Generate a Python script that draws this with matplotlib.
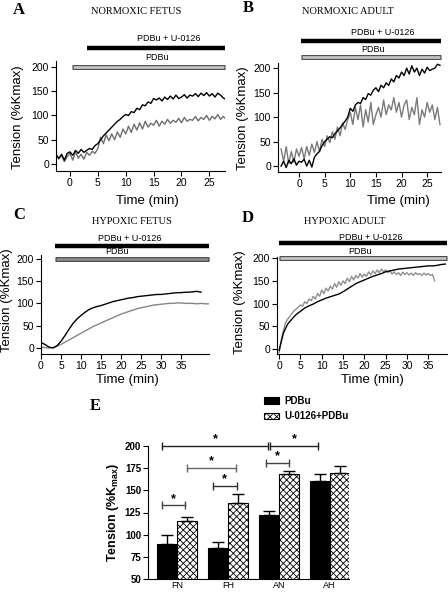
import numpy as np
import matplotlib
matplotlib.use("Agg")
import matplotlib.pyplot as plt

plt.rcParams["font.family"] = ["Liberation Sans", "DejaVu Sans"]
plt.rcParams["hatch.linewidth"] = 0.6
plt.rcParams["mathtext.fontset"] = "custom"
plt.rcParams["mathtext.rm"] = "Liberation Sans"
plt.rcParams["mathtext.bf"] = "Liberation Sans:bold"

W, H = 448, 593

# --- A: normoxic fetus, sampled every 0.5 min from -2.5 min
t_a = np.arange(-2.5, 28.01, 0.5)
a_u0126 = [18, 12, 20, 8, 22, 25, 18, 28, 22, 30,
           24, 28, 32, 30, 38, 42, 50, 58, 64, 70,
           76, 82, 88, 92, 98, 102, 100, 108, 106, 115,
           112, 122, 120, 128, 125, 135, 132, 136, 130, 138,
           133, 140, 134, 142, 135, 138, 143, 136, 142, 140,
           145, 139, 146, 141, 147, 140, 145, 138, 146, 142,
           136, 133]
a_pdbu = [22, 10, 18, 5, 15, 22, 8, 25, 12, 20,
          10, 24, 18, 26, 22, 32, 55, 42, 60, 48,
          62, 50, 66, 55, 72, 62, 78, 65, 82, 70,
          85, 72, 88, 76, 84, 80, 90, 78, 88, 82,
          92, 84, 90, 86, 94, 85, 96, 88, 92, 90,
          98, 89, 96, 92, 100, 90, 98, 93, 102, 92,
          98, 92]

# --- B: normoxic adult, every 0.5 min from -3.5 min
t_b = np.arange(-3.5, 27.51, 0.5)
b_u0126 = [0, 10, -3, 12, 5, 15, 2, 10, 8, 14,
           0, 12, -2, 18, 25, 30, 42, 50, 55, 60,
           58, 66, 72, 78, 85, 92, 100, 118, 112, 125,
           130, 128, 140, 136, 148, 145, 155, 160, 152, 165,
           160, 170, 165, 178, 172, 185, 180, 192, 185, 200,
           188, 205, 192, 200, 185, 198, 190, 202, 195, 198,
           200, 208, 206]
b_pdbu = [35, 10, 40, 5, 30, 8, 35, 20, 38, 15,
          40, 22, 45, 28, 50, 30, 55, 40, 62, 48,
          70, 55, 80, 62, 88, 75, 95, 110, 85, 120,
          95, 125, 80, 115, 90, 130, 85, 105, 120, 100,
          135, 105, 125, 115, 140, 110, 130, 100, 125, 135,
          95, 120, 105, 140, 85, 115, 100, 130, 110, 125,
          95, 120, 85]

# --- C: hypoxic fetus, every 1 min
t_c_u = np.arange(0, 41, 1.0)
c_u0126 = [12, 8, 2, 0, 5, 15, 28, 42, 55, 65,
           73, 80, 86, 90, 93, 95, 98, 101, 104, 106,
           108, 110, 112, 113, 115, 116, 117, 118, 119, 120,
           120, 121, 122, 123, 124, 124, 125, 125, 126, 127,
           125]
t_c_p = np.arange(0, 43, 1.0)
c_pdbu = [2, 1, 0, 1, 4, 8, 13, 18, 23, 28,
          33, 38, 43, 48, 52, 56, 60, 64, 68, 72,
          76, 79, 82, 85, 88, 90, 92, 94, 96, 97,
          98, 99, 100, 100, 101, 101, 100, 100, 100, 99,
          100, 99, 99]

# --- D: hypoxic adult
t_d_u = np.arange(0, 40, 1.0)
d_u0126 = [-3, 35, 55, 66, 76, 83, 90, 95, 99, 104,
           108, 112, 115, 118, 121, 126, 132, 138, 144, 148,
           152, 156, 160, 163, 166, 170, 172, 174, 176, 177,
           178, 179, 180, 181, 182, 183, 183, 184, 186, 187]
t_d_p = np.arange(0, 36.51, 0.5)
d_pdbu = [-8, 20, 40, 58, 66, 72, 78, 84, 88, 92,
          97, 94, 104, 100, 110, 106, 116, 110, 122, 116,
          130, 122, 134, 128, 138, 132, 144, 136, 148, 140,
          150, 144, 156, 148, 160, 152, 162, 156, 166, 158,
          165, 160, 170, 163, 172, 166, 174, 168, 176, 170,
          174, 168, 172, 165, 170, 164, 168, 162, 169, 164,
          168, 163, 167, 162, 168, 164, 166, 162, 167, 163,
          166, 162, 164, 150]

# --- E: summary bars
groups = ["FN", "FH", "AN", "AH"]
pdbu_mean = [90, 85, 122, 161]
pdbu_err = [10, 7, 5, 7]
u0126_mean = [115, 136, 168, 170]
u0126_err = [5, 10, 4, 7]
# significance brackets: x from, x to, y, colour
brackets = [(-0.29, 1.78, 200, "#222222"),
            (1.82, 2.78, 200, "#222222"),
            (0.2, 1.16, 175, "#666666"),
            (0.7, 1.18, 155, "#333333"),
            (1.75, 2.2, 181, "#444444"),
            (-0.29, 0.16, 133, "#444444")]


def px_rect(left, top, right, bottom):
    return [left / W, 1 - bottom / H, (right - left) / W, (bottom - top) / H]


def trace_panel(fig, rect, xlim, ylim, spine_top, xticks, u_data, p_data,
                bars, texts, bar_grey, line_grey):
    ax = fig.add_axes(rect)
    ax.plot(p_data[0], p_data[1], color=line_grey, lw=1.0)
    ax.plot(u_data[0], u_data[1], color="black", lw=1.0)
    ax.set_xlim(*xlim)
    ax.set_ylim(*ylim)
    for s in ["top", "right"]:
        ax.spines[s].set_visible(False)
    ax.spines["left"].set_bounds(ylim[0], spine_top)
    ax.set_yticks([0, 50, 100, 150, 200])
    ax.set_xticks(xticks)
    ax.tick_params(direction="out", length=3.5, width=0.8, pad=1.5, labelsize=7.5)
    (ub_y, ub_x0), (pb_y, pb_x0) = bars
    ax.plot([ub_x0, xlim[1]], [ub_y, ub_y], color="black", lw=3.2,
            solid_capstyle="butt", clip_on=False)
    ax.plot([pb_x0, xlim[1]], [pb_y, pb_y], color="#333333", lw=3.4,
            solid_capstyle="butt", clip_on=False)
    ax.plot([pb_x0 + 0.15, xlim[1] - 0.15], [pb_y, pb_y], color=bar_grey, lw=2.0,
            solid_capstyle="butt", clip_on=False)
    ax.text(texts[0][0], texts[0][1], "PDBu + U-0126", fontsize=6.5,
            ha="center", va="center")
    ax.text(texts[1][0], texts[1][1], "PDBu", fontsize=6.5, ha="center", va="center")
    return ax


fig = plt.figure(figsize=(W / 100, H / 100), dpi=100)

trace_panel(fig, px_rect(56, 36.9, 225, 170.8), (-2.5, 27.8), (-14, 262), 212,
            [0, 5, 10, 15, 20, 25], (t_a, a_u0126), (t_a, a_pdbu),
            [(239, 3.0), (200, 0.4)], [(17.7, 258), (15.6, 220)], "#c4c4c4", "#6e6e6e")
trace_panel(fig, px_rect(278, 29, 441, 172), (-4.1, 27.7), (-12, 280), 210,
            [0, 5, 10, 15, 20, 25], (t_b, b_u0126), (t_b, b_pdbu),
            [(255, 0.4), (222, 0.4)], [(16.4, 273), (14.5, 239)], "#c4c4c4", "#7a7a7a")
trace_panel(fig, px_rect(41, 232, 209, 354), (0, 42), (-13.5, 260), 209,
            [0, 5, 10, 15, 20, 25, 30, 35], (t_c_u, c_u0126), (t_c_p, c_pdbu),
            [(229, 3.5), (200, 3.5)], [(22.3, 245), (19, 216)], "#8c8c8c", "#858585")
trace_panel(fig, px_rect(277, 230, 447, 354), (-0.5, 39.4), (-11, 262), 202,
            [0, 5, 10, 15, 20, 25, 30, 35], (t_d_u, d_u0126), (t_d_p, d_pdbu),
            [(233, 0.0), (200, 0.0)], [(21.4, 246), (19, 215)], "#c4c4c4", "#8f8f8f")

# axis labels, titles and panel letters placed in pixel terms
for x, y in [(18, 117), (243, 118), (7, 300), (240, 302)]:
    fig.text(x / W, 1 - y / H, "Tension (%Kmax)", rotation=90, fontsize=9.5,
             ha="center", va="center")
for x, y in [(147, 201), (398, 201), (127, 380), (372, 380)]:
    fig.text(x / W, 1 - y / H, "Time (min)", fontsize=9.5, ha="center", va="center")
titles = ["NORMOXIC FETUS", "NORMOXIC ADULT", "HYPOXIC FETUS", "HYPOXIC ADULT"]
for (x, y), t in zip([(136, 12), (348, 12), (132, 222), (345, 222)], titles):
    fig.text(x / W, 1 - y / H, t, family="Liberation Serif", fontsize=7.5,
             ha="center", va="center")
for (x, y), t in zip([(19, 10), (248, 8), (19, 215), (248, 218), (95, 406)], "ABCDE"):
    fig.text(x / W, 1 - y / H, t, family="Liberation Serif", fontsize=12,
             fontweight="bold", ha="center", va="center")

# --- E
axe = fig.add_axes(px_rect(148, 446, 349, 579))
xpos = np.arange(len(groups))
bw = 0.39
b1 = axe.bar(xpos - bw / 2, pdbu_mean, bw, color="black", edgecolor="black",
             lw=0.8, yerr=[[0] * 4, pdbu_err], capsize=4,
             error_kw=dict(elinewidth=1, capthick=1), label="PDBu")
b2 = axe.bar(xpos + bw / 2, u0126_mean, bw, color="white", edgecolor="black",
             hatch="xxxxx", lw=0.8, yerr=[[0] * 4, u0126_err], capsize=4,
             error_kw=dict(elinewidth=1, capthick=1), label="U-0126+PDBu")
axe.set_ylim(50, 200)
axe.set_xlim(-0.57, 3.38)
axe.set_yticks([50, 75, 100, 125, 150, 175, 200])
axe.set_xticks(xpos)
axe.set_xticklabels(groups, fontsize=6.5)
for s in ["top", "right"]:
    axe.spines[s].set_visible(False)
axe.tick_params(axis="x", length=0, pad=1.5)
axe.tick_params(axis="y", direction="out", length=3.5, width=0.8, pad=1.5, labelsize=7)
for lab in axe.get_yticklabels():
    lab.set_fontweight("bold")
axe.set_ylabel(r"Tension (%K$_{\mathbf{max}}$)", fontsize=9, fontweight="bold", labelpad=3)

for x1, x2, y, c in brackets:
    axe.plot([x1, x2], [y, y], color=c, lw=1, clip_on=False)
    axe.plot([x1, x2], [y, y], ls="none", marker="|", ms=6, mew=1, color=c, clip_on=False)
    axe.annotate("*", ((x1 + x2) / 2, y), xytext=(0, 0.5), textcoords="offset points",
                 ha="center", va="bottom", fontsize=9, fontweight="bold", annotation_clip=False)

axe.legend(handles=[b1, b2], loc="upper left", frameon=False,
           bbox_to_anchor=(260 / W, 1 - 392 / H), bbox_transform=fig.transFigure,
           prop=dict(size=7, weight="bold"), handlelength=1.6, handleheight=0.6,
           handletextpad=0.5, labelspacing=0.55, borderaxespad=0)

fig.savefig("out.png", dpi=100)
